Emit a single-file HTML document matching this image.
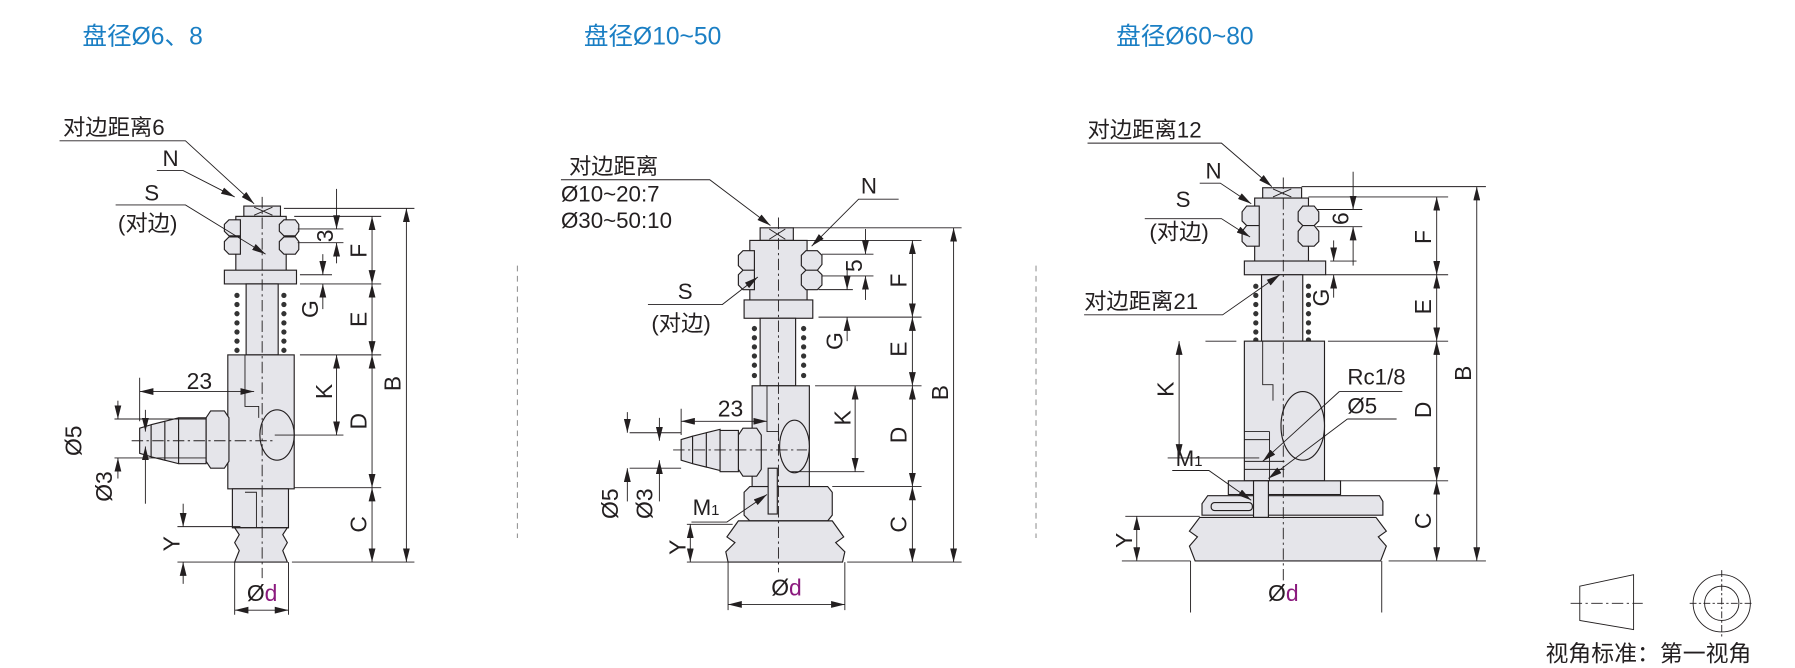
<!DOCTYPE html>
<html><head><meta charset="utf-8">
<style>
html,body{margin:0;padding:0;background:#fff;}
svg{display:block;}
text{font-family:"Liberation Sans","Noto Sans CJK SC",sans-serif;fill:#231f20;}
.t{fill:#1b7fc4;font-size:21.5px;}
.l{font-size:19.5px;}
.d{font-size:20px;}
.g{fill:#e5e5ea;stroke:#231f20;stroke-width:1;}
.s{stroke:#231f20;stroke-width:0.8;fill:none;}
.c{stroke:#231f20;stroke-width:0.8;fill:none;stroke-dasharray:10,3,2,3;}
.ds{stroke:#999;stroke-width:1;fill:none;stroke-dasharray:5,4;}
.a{stroke:#231f20;stroke-width:0.8;fill:none;marker-start:url(#ar);marker-end:url(#ar);}
.a1{stroke:#231f20;stroke-width:0.8;fill:none;marker-end:url(#ar);}
</style></head><body>
<svg width="1795" height="668" viewBox="0 0 1568 583.5" xmlns="http://www.w3.org/2000/svg">
<defs>
<marker id="ar" viewBox="0 0 12 6" refX="12" refY="3" markerWidth="12" markerHeight="6" markerUnits="userSpaceOnUse" orient="auto-start-reverse">
<path d="M0,0 L12,3 L0,6 z" fill="#231f20"/></marker>
</defs>

<text class="t" x="72" y="39">盘径Ø6、8</text>
<text class="t" x="510" y="39">盘径Ø10~50</text>
<text class="t" x="975" y="39">盘径Ø60~80</text>

<line class="ds" x1="452" y1="232" x2="452" y2="470"/>
<line class="ds" x1="905" y1="232" x2="905" y2="470"/>

<!-- ============ DRAWING 1 ============ -->
<g>
<rect class="g" x="213" y="180" width="32" height="9"/>
<line class="s" x1="222" y1="181" x2="238" y2="188"/><line class="s" x1="222" y1="188" x2="238" y2="181"/>
<rect class="g" x="206" y="189" width="44" height="50"/>
<path class="g" d="M196,196 l4,-4 h10 v14 h-10 l-4,-4z M196,211 l4,-4 h10 v15 h-10 l-4,-4z"/>
<path class="g" d="M244,196 l4,-4 h10 l3,4 v6 l-3,4 h-10 l-4,-4z M244,211 l4,-4 h10 l3,4 v7 l-3,4 h-10 l-4,-4z"/>
<rect class="g" x="196" y="236" width="63" height="12"/>
<rect class="g" x="215" y="248" width="28" height="62"/>
<g fill="#333">
<circle cx="207" cy="258" r="2.3"/><circle cx="207" cy="266" r="2.3"/><circle cx="207" cy="274" r="2.3"/><circle cx="207" cy="282" r="2.3"/><circle cx="207" cy="290" r="2.3"/><circle cx="207" cy="298" r="2.3"/><circle cx="207" cy="306" r="2.3"/>
<circle cx="248" cy="258" r="2.3"/><circle cx="248" cy="266" r="2.3"/><circle cx="248" cy="274" r="2.3"/><circle cx="248" cy="282" r="2.3"/><circle cx="248" cy="290" r="2.3"/><circle cx="248" cy="298" r="2.3"/><circle cx="248" cy="306" r="2.3"/>
</g>
<rect class="g" x="199" y="310" width="58" height="117"/>
<path class="s" d="M214,310 v45 h12 v10"/>
<ellipse class="g" cx="242" cy="380" rx="15" ry="22"/>
<path class="g" d="M203,427 h49 v34 h-49z"/>
<path class="s" d="M214,430 h10 v40 h-8"/>
<path class="g" d="M205,461 h46 l-4,6 l4,7 l-4,7 l4,10 h-46 l4,-10 l-4,-7 l4,-7z"/>
<path class="g" d="M180,365 l4,-6 h12 l4,6 v38 l-4,6 h-12 l-4,-6z"/>
<path class="g" d="M122,374 l10,-3 v28 l-10,-3z M132,371 l12,-3 v34 l-12,-3z M144,368 l12,-3 v40 l-12,-3z M156,365 l24,0 v40 h-24z"/>
<path class="c" d="M229,172 V505"/>
<path class="c" d="M115,385 H240"/>
<g class="s">
<path d="M248,182 H362 M257,189 H333 M260,200 H300 M260,212 H300 M262,240 H290 M262,248 H333 M262,310 H333 M240,380 H300 M257,426 H333 M255,491 H362 M100,366 H180 M100,400 H180 M155,460 H210 M155,491 H210 M205,491 V537 M252,491 V537 M122,330 V368"/>
</g>
<line class="a" x1="325" y1="189" x2="325" y2="248"/>
<line class="a" x1="325" y1="248" x2="325" y2="310"/>
<line class="a" x1="325" y1="310" x2="325" y2="426"/>
<line class="a" x1="325" y1="426" x2="325" y2="491"/>
<line class="a" x1="355" y1="182" x2="355" y2="491"/>
<line class="a1" x1="294" y1="165" x2="294" y2="200"/><line class="a1" x1="294" y1="230" x2="294" y2="212"/>
<line class="a1" x1="282" y1="222" x2="282" y2="240"/><line class="a1" x1="282" y1="270" x2="282" y2="248"/>
<line class="a" x1="294" y1="310" x2="294" y2="380"/>
<line class="a" x1="122" y1="342" x2="222" y2="342"/>
<line class="a1" x1="103" y1="350" x2="103" y2="366"/><line class="a1" x1="103" y1="418" x2="103" y2="400"/>
<line class="a1" x1="127" y1="358" x2="127" y2="377"/><line class="a1" x1="127" y1="440" x2="127" y2="390"/>
<line class="a1" x1="160" y1="440" x2="160" y2="460"/><line class="a1" x1="160" y1="510" x2="160" y2="491"/>
<line class="a" x1="205" y1="533" x2="252" y2="533"/>
<text class="d" x="163" y="340">23</text>
<text class="d" transform="translate(71,385) rotate(-90)" text-anchor="middle">Ø5</text>
<text class="d" transform="translate(98,425) rotate(-90)" text-anchor="middle">Ø3</text>
<text class="d" transform="translate(157,475) rotate(-90)" text-anchor="middle">Y</text>
<text class="d" transform="translate(320,219) rotate(-90)" text-anchor="middle">F</text>
<text class="d" transform="translate(320,279) rotate(-90)" text-anchor="middle">E</text>
<text class="d" transform="translate(320,368) rotate(-90)" text-anchor="middle">D</text>
<text class="d" transform="translate(320,458) rotate(-90)" text-anchor="middle">C</text>
<text class="d" transform="translate(350,335) rotate(-90)" text-anchor="middle">B</text>
<text class="d" transform="translate(291,206) rotate(-90)" text-anchor="middle">3</text>
<text class="d" transform="translate(278,270) rotate(-90)" text-anchor="middle">G</text>
<text class="d" transform="translate(290,342) rotate(-90)" text-anchor="middle">K</text>
<text class="d" x="229" y="525" text-anchor="middle">Ø<tspan style="fill:#8b1a7e">d</tspan></text>
<path class="s" d="M52,123 H162 L222,178" marker-end="url(#ar)"/>
<path class="s" d="M137,149 H160 L205,172" marker-end="url(#ar)"/>
<path class="s" d="M101,179 H162 L232,222" marker-end="url(#ar)"/>
<text class="l" x="55" y="118">对边距离6</text>
<text class="l" x="142" y="145">N</text>
<text class="l" x="126" y="175">S</text>
<text class="l" x="103" y="202">(对边)</text>
</g>

<!-- ============ DRAWING 2 ============ -->
<g>
<rect class="g" x="664" y="199" width="29" height="11"/>
<line class="s" x1="672" y1="200" x2="686" y2="209"/><line class="s" x1="672" y1="209" x2="686" y2="200"/>
<rect class="g" x="655" y="210" width="50" height="66"/>
<path class="g" d="M645,223 l4,-4 h10 v17 h-10 l-4,-4z M645,240 l4,-4 h10 v17 h-10 l-4,-4z"/>
<path class="g" d="M700,223 l4,-4 h10 l4,4 v8 l-4,5 h-10 l-4,-4z M700,240 l4,-4 h10 l4,4 v9 l-4,4 h-10 l-4,-4z"/>
<rect class="g" x="650" y="262" width="60" height="16"/>
<rect class="g" x="664" y="278" width="31" height="59"/>
<g fill="#333">
<circle cx="659" cy="287" r="2.3"/><circle cx="659" cy="295" r="2.3"/><circle cx="659" cy="303" r="2.3"/><circle cx="659" cy="311" r="2.3"/><circle cx="659" cy="319" r="2.3"/><circle cx="659" cy="328" r="2.3"/>
<circle cx="702" cy="287" r="2.3"/><circle cx="702" cy="295" r="2.3"/><circle cx="702" cy="303" r="2.3"/><circle cx="702" cy="311" r="2.3"/><circle cx="702" cy="319" r="2.3"/><circle cx="702" cy="328" r="2.3"/>
</g>
<rect class="g" x="657" y="337" width="50" height="88"/>
<path class="s" d="M670,337 v40 h10 v8"/>
<ellipse class="g" cx="694" cy="390" rx="13" ry="23"/>
<path class="g" d="M650,430 l5,-5 h68 l4,5 v20 l-4,5 h-68 l-5,-5z"/>
<rect class="g" x="671" y="409" width="8" height="40"/>
<path class="g" d="M645,455 h82 l10,14 l-7,5 l8,8 l-2,9 h-100 l-2,-9 l8,-8 l-7,-5z"/>
<path class="g" d="M645,380 l4,-6 h12 l4,6 v30 l-4,6 h-12 l-4,-6z"/>
<path class="g" d="M595,384 l10,-3 v24 l-10,-3z M605,381 l12,-3 v30 l-12,-3z M617,378 l12,-3 v36 l-12,-3z M629,376 l16,0 v36 h-16z"/>
<path class="c" d="M680,190 V500"/>
<path class="c" d="M588,393 H705"/>
<g class="s">
<path d="M693,199 H840 M705,210 H805 M718,222 H763 M718,241 H763 M715,253 H745 M715,277 H805 M712,337 H805 M690,412 H755 M727,425 H805 M740,491 H840 M637,491 H600 M550,378 H595 M550,409 H595 M600,458 H640 M636,491 V533 M738,491 V533 M595,357 V380"/>
</g>
<line class="a" x1="797" y1="210" x2="797" y2="277"/>
<line class="a" x1="797" y1="277" x2="797" y2="337"/>
<line class="a" x1="797" y1="337" x2="797" y2="425"/>
<line class="a" x1="797" y1="425" x2="797" y2="491"/>
<line class="a" x1="833" y1="199" x2="833" y2="491"/>
<line class="a1" x1="756" y1="200" x2="756" y2="222"/><line class="a1" x1="756" y1="262" x2="756" y2="241"/>
<line class="a1" x1="740" y1="230" x2="740" y2="253"/><line class="a1" x1="740" y1="298" x2="740" y2="277"/>
<line class="a" x1="747" y1="337" x2="747" y2="412"/>
<line class="a" x1="595" y1="368" x2="670" y2="368"/>
<line class="a1" x1="548" y1="360" x2="548" y2="378"/><line class="a1" x1="548" y1="438" x2="548" y2="409"/>
<line class="a1" x1="576" y1="365" x2="576" y2="385"/><line class="a1" x1="576" y1="438" x2="576" y2="402"/>
<line class="a" x1="603" y1="458" x2="603" y2="491"/>
<line class="a" x1="636" y1="528" x2="738" y2="528"/>
<text class="d" x="627" y="364">23</text>
<text class="d" transform="translate(540,440) rotate(-90)" text-anchor="middle">Ø5</text>
<text class="d" transform="translate(570,440) rotate(-90)" text-anchor="middle">Ø3</text>
<text class="d" transform="translate(599,478) rotate(-90)" text-anchor="middle">Y</text>
<text class="d" transform="translate(792,245) rotate(-90)" text-anchor="middle">F</text>
<text class="d" transform="translate(792,305) rotate(-90)" text-anchor="middle">E</text>
<text class="d" transform="translate(792,380) rotate(-90)" text-anchor="middle">D</text>
<text class="d" transform="translate(792,458) rotate(-90)" text-anchor="middle">C</text>
<text class="d" transform="translate(828,343) rotate(-90)" text-anchor="middle">B</text>
<text class="d" transform="translate(753,232) rotate(-90)" text-anchor="middle">5</text>
<text class="d" transform="translate(736,298) rotate(-90)" text-anchor="middle">G</text>
<text class="d" transform="translate(743,365) rotate(-90)" text-anchor="middle">K</text>
<text class="d" x="687" y="520" text-anchor="middle">Ø<tspan style="fill:#8b1a7e">d</tspan></text>
<path class="s" d="M490,157 H620 L673,197" marker-end="url(#ar)"/>
<path class="s" d="M785,174 H750 L709,215" marker-end="url(#ar)"/>
<path class="s" d="M566,266 H631 L662,242" marker-end="url(#ar)"/>
<path class="s" d="M604,456 H635 L670,432" marker-end="url(#ar)"/>
<text class="l" x="497" y="152">对边距离</text>
<text class="l" x="490" y="176">Ø10~20:7</text>
<text class="l" x="490" y="199">Ø30~50:10</text>
<text class="l" x="752" y="169">N</text>
<text class="l" x="592" y="261">S</text>
<text class="l" x="569" y="289">(对边)</text>
<text class="l" x="605" y="450">M<tspan font-size="13">1</tspan></text>
</g>

<!-- ============ DRAWING 3 ============ -->
<g>
<rect class="g" x="1103" y="164" width="34" height="9"/>
<line class="s" x1="1112" y1="165" x2="1128" y2="172"/><line class="s" x1="1112" y1="172" x2="1128" y2="165"/>
<rect class="g" x="1096" y="173" width="47" height="65"/>
<path class="g" d="M1085,185 l4,-5 h11 v17 h-11 l-4,-4z M1085,202 l4,-5 h11 v18 h-11 l-4,-4z"/>
<path class="g" d="M1134,185 l4,-5 h10 l4,5 v8 l-4,4 h-10 l-4,-4z M1134,202 l4,-5 h10 l4,5 v9 l-4,4 h-10 l-4,-4z"/>
<rect class="g" x="1087" y="228" width="71" height="12"/>
<rect class="g" x="1102" y="240" width="36" height="58"/>
<g fill="#333">
<circle cx="1097" cy="250" r="2.3"/><circle cx="1097" cy="258" r="2.3"/><circle cx="1097" cy="266" r="2.3"/><circle cx="1097" cy="274" r="2.3"/><circle cx="1097" cy="282" r="2.3"/><circle cx="1097" cy="290" r="2.3"/><circle cx="1097" cy="297" r="2.3"/>
<circle cx="1143" cy="250" r="2.3"/><circle cx="1143" cy="258" r="2.3"/><circle cx="1143" cy="266" r="2.3"/><circle cx="1143" cy="274" r="2.3"/><circle cx="1143" cy="282" r="2.3"/><circle cx="1143" cy="290" r="2.3"/><circle cx="1143" cy="297" r="2.3"/>
</g>
<rect class="g" x="1087" y="298" width="70" height="122"/>
<path class="s" d="M1103,298 v38 h9 v14 M1087,377 h22 M1087,384 h22 M1087,403 h35 M1087,410 h35 M1109,377 v43"/>
<ellipse class="g" cx="1138" cy="372" rx="19" ry="30"/>
<rect class="g" x="1073" y="420" width="98" height="12"/>
<path class="g" d="M1050,440 l5,-7 h150 l3,5 v12 h-158z"/>
<rect class="g" x="1058" y="439" width="36" height="7" rx="3"/>
<rect class="g" x="1095" y="420" width="13" height="32"/>
<path class="g" d="M1048,452 h154 l9,12 l-7,5 l7,8 l-5,13 h-162 l-5,-13 l7,-8 l-7,-5z"/>
<path class="s" d="M1060,452 h140" stroke-dasharray="4,3"/>
<path class="c" d="M1121,155 V520"/>
<g class="s">
<path d="M1137,163 H1298 M1143,172 H1265 M1150,183 H1190 M1150,198 H1190 M1162,228 H1185 M1158,240 H1265 M1053,298 H1080 M1160,298 H1265 M1020,400 H1100 M1171,420 H1265 M1213,490 H1298 M980,490 H1040 M983,451 H1048 M1040,490 V535 M1207,490 V535"/>
</g>
<line class="a" x1="1255" y1="172" x2="1255" y2="240"/>
<line class="a" x1="1255" y1="240" x2="1255" y2="298"/>
<line class="a" x1="1255" y1="298" x2="1255" y2="420"/>
<line class="a" x1="1255" y1="420" x2="1255" y2="490"/>
<line class="a" x1="1290" y1="163" x2="1290" y2="490"/>
<line class="a1" x1="1182" y1="150" x2="1182" y2="183"/><line class="a1" x1="1182" y1="232" x2="1182" y2="198"/>
<line class="a1" x1="1165" y1="210" x2="1165" y2="228"/><line class="a1" x1="1165" y1="260" x2="1165" y2="240"/>
<line class="a" x1="1030" y1="298" x2="1030" y2="400"/>
<line class="a" x1="993" y1="451" x2="993" y2="490"/>
<text class="d" transform="translate(989,472) rotate(-90)" text-anchor="middle">Y</text>
<text class="d" transform="translate(1250,207) rotate(-90)" text-anchor="middle">F</text>
<text class="d" transform="translate(1250,268) rotate(-90)" text-anchor="middle">E</text>
<text class="d" transform="translate(1250,358) rotate(-90)" text-anchor="middle">D</text>
<text class="d" transform="translate(1250,455) rotate(-90)" text-anchor="middle">C</text>
<text class="d" transform="translate(1285,326) rotate(-90)" text-anchor="middle">B</text>
<text class="d" transform="translate(1178,191) rotate(-90)" text-anchor="middle">6</text>
<text class="d" transform="translate(1161,260) rotate(-90)" text-anchor="middle">G</text>
<text class="d" transform="translate(1025,340) rotate(-90)" text-anchor="middle">K</text>
<text class="d" x="1121" y="525" text-anchor="middle">Ø<tspan style="fill:#8b1a7e">d</tspan></text>
<path class="s" d="M950,125 H1067 L1111,163" marker-end="url(#ar)"/>
<path class="s" d="M1048,160 H1066 L1093,178" marker-end="url(#ar)"/>
<path class="s" d="M1000,191 H1067 L1092,207" marker-end="url(#ar)"/>
<path class="s" d="M947,275 H1068 L1118,240" marker-end="url(#ar)"/>
<path class="s" d="M1170,342 H1225 M1170,342 L1103,403" marker-end="url(#ar)"/>
<path class="s" d="M1177,366 H1220 M1177,366 L1108,418" marker-end="url(#ar)"/>
<path class="s" d="M1024,411 H1056 L1093,437" marker-end="url(#ar)"/>
<text class="l" x="950" y="120">对边距离12</text>
<text class="l" x="1053" y="156">N</text>
<text class="l" x="1027" y="181">S</text>
<text class="l" x="1004" y="209">(对边)</text>
<text class="l" x="947" y="270">对边距离21</text>
<text class="l" x="1177" y="336">Rc1/8</text>
<text class="l" x="1177" y="361">Ø5</text>
<text class="l" x="1027" y="407">M<tspan font-size="13">1</tspan></text>
</g>

<!-- legend -->
<g>
<path class="s" d="M1380,512 L1427,502 V550 L1380,542 Z"/>
<path class="c" d="M1372,527 H1435"/>
<circle class="s" cx="1504" cy="527" r="25"/>
<circle class="s" cx="1504" cy="527" r="15"/>
<path class="s" d="M1476,527 H1532 M1504,498 V556" stroke-dasharray="6,2,2,2"/>
<text class="l" x="1350" y="578" style="font-size:20px">视角标准：第一视角</text>
</g>
</svg>
</body></html>
